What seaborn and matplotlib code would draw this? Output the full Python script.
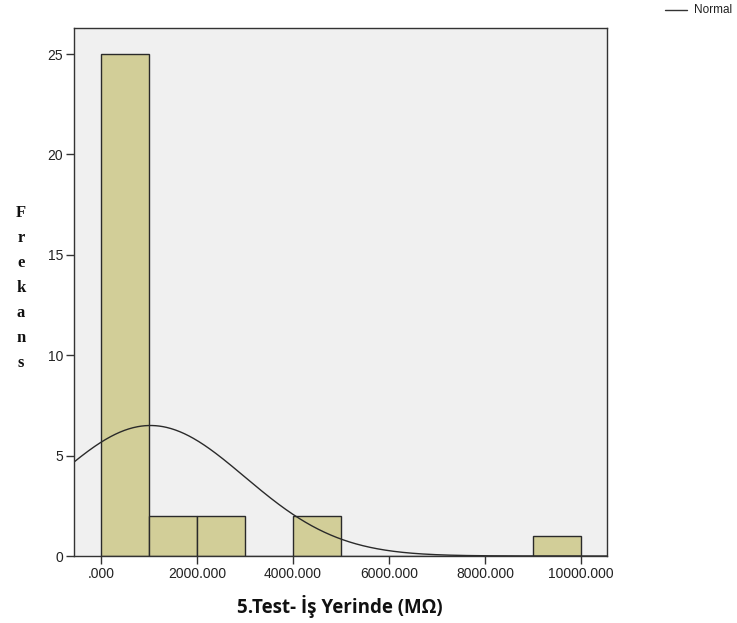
import numpy as np
import pandas as pd
import matplotlib
matplotlib.use("Agg")
import matplotlib.pyplot as plt
import seaborn as sns

# Histogram data (bin edges in MΩ and counts)
bin_edges = [0, 1000, 2000, 3000, 4000, 5000, 6000, 7000, 8000, 9000, 10000]
counts = [25, 2, 2, 0, 2, 0, 0, 0, 0, 1]
# Normal curve parameters
norm_mean = 1030.0
norm_sd = 1964.0
n_total = 32
x_ticks = [0, 2000, 4000, 6000, 8000, 10000]
x_tick_labels = [".000", "2000.000", "4000.000", "6000.000", "8000.000", "10000.000"]
y_ticks = [0, 5, 10, 15, 20, 25]

sns.set_style("white")
plt.rcParams['font.family'] = ['Liberation Sans', 'DejaVu Sans']

fig = plt.figure(figsize=(7.37, 6.23), dpi=100)
ax = fig.add_axes([74/737, 1-556/623, (607-74)/737, (556-28)/623])
ax.set_facecolor("#F0F0F0")

centers = [(a + b) / 2 for a, b in zip(bin_edges[:-1], bin_edges[1:])]
df = pd.DataFrame({"x": centers, "w": counts})
sns.histplot(data=df, x="x", weights="w", bins=bin_edges, ax=ax,
             color="#D2CE98", edgecolor="#2a2a2a", linewidth=1.0, alpha=1.0)

xs = np.linspace(-600, 10600, 600)
binw = bin_edges[1] - bin_edges[0]
ys = n_total * binw / (norm_sd * np.sqrt(2 * np.pi)) * np.exp(-0.5 * ((xs - norm_mean) / norm_sd) ** 2)
sns.lineplot(x=xs, y=ys, ax=ax, color="#2a2a2a", linewidth=1.0)

ax.set_xlim(-562, 10540)
ax.set_ylim(0, 26.3)
ax.set_xticks(x_ticks)
ax.set_xticklabels(x_tick_labels, fontsize=10)
ax.set_yticks(y_ticks)
ax.set_yticklabels([str(v) for v in y_ticks], fontsize=10)
ax.tick_params(axis="both", direction="out", length=6, width=1, color="#333333",
               labelcolor="#222222", pad=2, left=True, bottom=True)
for s in ax.spines.values():
    s.set_color("#333333")
    s.set_linewidth(1.0)
ax.set_xlabel("")
ax.set_ylabel("")

fig.text(340/737, 1-607/623, "5.Test- İş Yerinde (MΩ)", ha="center", va="center",
         fontsize=13.5, fontweight="bold", family=["Open Sans", "DejaVu Sans"], color="#111111")

for i, ch in enumerate("Frekans"):
    fig.text(21/737, 1-(213 + i*25)/623, ch, ha="center", va="center",
             fontsize=12, fontweight="bold", family=["Liberation Serif", "DejaVu Serif"], color="#111111")

# Legend
fig.lines.append(plt.Line2D([665/737, 687/737], [1-10/623, 1-10/623],
                            transform=fig.transFigure, color="#333333", linewidth=1.0))
fig.text(694/737, 1-10/623, "Normal", ha="left", va="center", fontsize=8.5, color="#222222")

fig.savefig("out.png", dpi=100)
